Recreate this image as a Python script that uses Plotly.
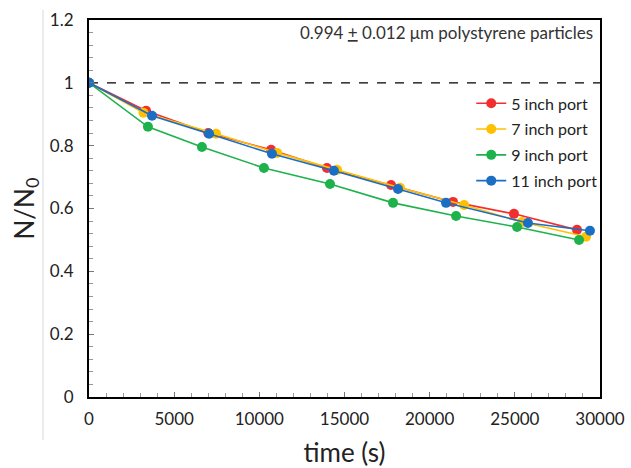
import plotly.graph_objects as go

series_names = ["5 inch port", "7 inch port", "9 inch port", "11 inch port"]
colors = ["#F22F2F", "#FFC000", "#1DB24B", "#1A6FC4"]

t_5 = [0, 3350, 7000, 10690, 13970, 17730, 21370, 24950, 28650]
n_5 = [1.0, 0.911, 0.840, 0.787, 0.729, 0.675, 0.621, 0.583, 0.532]

t_7 = [0, 3200, 7460, 11040, 14560, 18260, 22020, 25420, 29180]
n_7 = [1.0, 0.905, 0.838, 0.777, 0.723, 0.666, 0.611, 0.557, 0.510]

t_9 = [0, 3460, 6630, 10270, 14150, 17850, 21550, 25130, 28770]
n_9 = [1.0, 0.860, 0.796, 0.729, 0.678, 0.618, 0.576, 0.541, 0.500]

t_11 = [0, 3700, 7050, 10740, 14380, 18140, 20960, 25770, 29410]
n_11 = [1.0, 0.895, 0.838, 0.774, 0.720, 0.662, 0.618, 0.554, 0.529]

xs = [t_5, t_7, t_9, t_11]
ys = [n_5, n_7, n_9, n_11]

FONT = "Lato"

fig = go.Figure()

# reference line at N/N0 = 1
fig.add_trace(go.Scatter(x=[0, 30000], y=[1, 1], mode="lines",
                         line=dict(color="black", width=1.3, dash="dash"),
                         showlegend=False, hoverinfo="skip"))

for name, c, x, y in zip(series_names, colors, xs, ys):
    fig.add_trace(go.Scatter(x=x, y=y, mode="lines+markers", name=name,
                             legendgroup=name,
                             line=dict(color=c, width=1.6),
                             marker=dict(color=c, size=10)))

fig.update_layout(
    width=631, height=468,
    margin=dict(l=89, r=31, t=20, b=71),
    plot_bgcolor="white", paper_bgcolor="white",
    font=dict(family=FONT, color="#222"),
    showlegend=True,
    legend=dict(x=0.748, y=0.824, xanchor="left", yanchor="top",
                font=dict(size=16, family=FONT, color="#222"),
                bgcolor="rgba(0,0,0,0)", itemwidth=30, tracegroupgap=2),
    xaxis=dict(range=[0, 30000], dtick=5000, tick0=0, tickformat="d",
               automargin=False, ticklabelstandoff=6,
               showgrid=False, zeroline=False,
               showline=True, linecolor="black", linewidth=2, mirror=True,
               ticks="inside", ticklen=5, tickcolor="#777",
               minor=dict(dtick=1000, ticks="inside", ticklen=4, tickcolor="#999"),
               tickfont=dict(size=17, family=FONT, color="#222"),
               title=dict(text="time (s)", font=dict(size=26, family=FONT, color="#222"), standoff=16)),
    yaxis=dict(range=[0, 1.2], dtick=0.2, tick0=0,
               automargin=False, ticklabelstandoff=10,
               showgrid=False, zeroline=False,
               showline=True, linecolor="black", linewidth=2, mirror=True,
               ticks="inside", ticklen=5, tickcolor="#777",
               minor=dict(dtick=0.04, ticks="inside", ticklen=4, tickcolor="#999"),
               tickfont=dict(size=17, family=FONT, color="#222"),
               title=dict(text="N/N<sub>0</sub>", font=dict(size=26, family=FONT, color="#222"), standoff=8)),
    annotations=[dict(text="0.994 <u>+</u> 0.012 \u03bcm polystyrene particles",
                      xref="paper", yref="paper", x=0.99, y=0.966,
                      xanchor="right", yanchor="middle", showarrow=False,
                      font=dict(size=17, family=FONT, color="#333"))],
    shapes=[dict(type="line", xref="paper", yref="paper",
                 x0=-0.09, x1=-0.09, y0=-0.114, y1=1.027,
                 line=dict(color="#d8d8d8", width=1))],
)

fig.write_html("out.html", config={"displayModeBar": False},
               post_script="document.body.style.margin='0';document.body.style.padding='0';")
